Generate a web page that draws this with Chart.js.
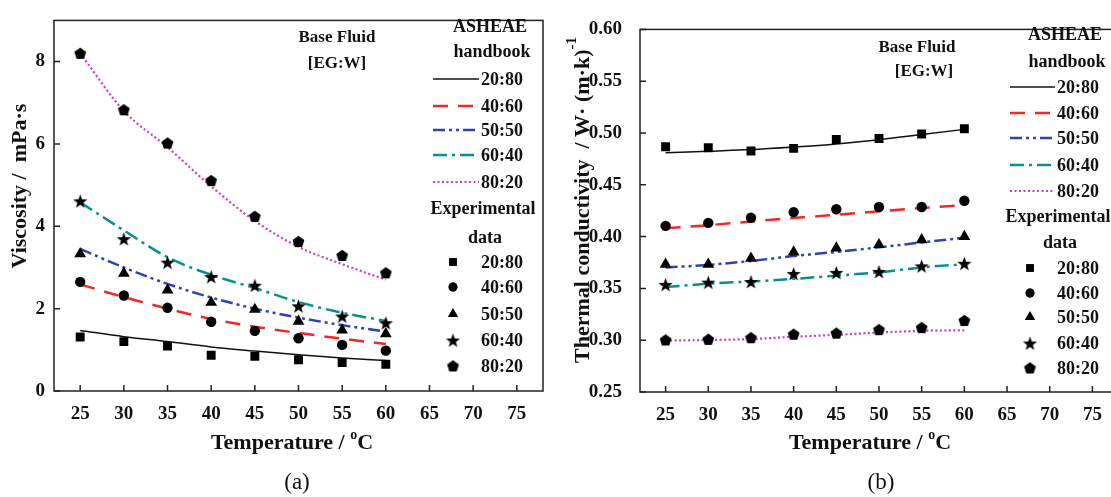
<!DOCTYPE html>
<html>
<head>
<meta charset="utf-8">
<script src="https://cdn.jsdelivr.net/npm/chart.js@4.4.0/dist/chart.umd.min.js"></script>
<style>
  html, body { margin: 0; padding: 0; background: #fff; overflow: hidden; }
  body { width: 1111px; height: 497px; position: relative; }
  .wrap { position: absolute; top: 0; }
</style>
</head>
<body>
<div class="wrap" style="left:0"><canvas id="viscosity" width="560" height="497"></canvas></div>
<div class="wrap" style="left:555px"><canvas id="conductivity" width="570" height="497"></canvas></div>
<script>
// data
const temps = [25, 30, 35, 40, 45, 50, 55, 60];
const ratios = ['20:80', '40:60', '50:50', '60:40', '80:20'];
const xTicks = [25, 30, 35, 40, 45, 50, 55, 60, 65, 70, 75];
const viscTicks = [0, 2, 4, 6, 8];
const condTicks = [0.25, 0.30, 0.35, 0.40, 0.45, 0.50, 0.55, 0.60];

// (a) viscosity, ASHEAE handbook lines
const viscHb2080 = [1.47, 1.32, 1.20, 1.07, 0.97, 0.88, 0.80, 0.74];
const viscHb4060 = [2.59, 2.28, 2.00, 1.75, 1.56, 1.41, 1.27, 1.14];
const viscHb5050 = [3.45, 3.00, 2.60, 2.27, 2.00, 1.78, 1.60, 1.44];
const viscHb6040 = [4.58, 3.90, 3.25, 2.82, 2.50, 2.16, 1.90, 1.70];
const viscHb8020 = [8.20, 6.80, 5.92, 4.97, 4.13, 3.50, 3.08, 2.70];
// (a) viscosity, experimental points
const viscEx2080 = [1.31, 1.20, 1.09, 0.87, 0.84, 0.76, 0.69, 0.65];
const viscEx4060 = [2.65, 2.32, 2.02, 1.68, 1.46, 1.28, 1.12, 0.98];
const viscEx5050 = [3.33, 2.86, 2.45, 2.15, 1.98, 1.69, 1.48, 1.39];
const viscEx6040 = [4.62, 3.70, 3.13, 2.78, 2.57, 2.07, 1.82, 1.66];
const viscEx8020 = [8.20, 6.83, 6.02, 5.11, 4.24, 3.63, 3.29, 2.87];

// (b) thermal conductivity, handbook lines
const condHb2080 = [0.481, 0.4825, 0.484, 0.4865, 0.4895, 0.4935, 0.4985, 0.5035];
const condHb4060 = [0.408, 0.411, 0.4145, 0.418, 0.421, 0.4245, 0.4275, 0.4305];
const condHb5050 = [0.3702, 0.3727, 0.3765, 0.3812, 0.3852, 0.3896, 0.3944, 0.399];
const condHb6040 = [0.3513, 0.3545, 0.3567, 0.3592, 0.3623, 0.3655, 0.3702, 0.3733];
const condHb8020 = [0.2996, 0.3002, 0.3011, 0.3033, 0.3052, 0.3074, 0.309, 0.3096];
// (b) thermal conductivity, experimental points
const condEx2080 = [0.4868, 0.4858, 0.4827, 0.4852, 0.4937, 0.4947, 0.4991, 0.5041];
const condEx4060 = [0.4104, 0.4132, 0.4182, 0.4236, 0.4264, 0.4286, 0.4286, 0.4346];
const condEx5050 = [0.3733, 0.3733, 0.379, 0.385, 0.389, 0.3922, 0.3969, 0.400];
const condEx6040 = [0.3539, 0.3561, 0.3567, 0.3645, 0.3655, 0.3664, 0.3718, 0.3743];
const condEx8020 = [0.3002, 0.3008, 0.3024, 0.3058, 0.3068, 0.3102, 0.3121, 0.319];

const FONT = '"Liberation Serif", "Times New Roman", serif';

// line looks for the handbook curves
const lineColors = ['#111111', '#f02828', '#3340b0', '#0a8f8f', '#c83cc8'];
const lineDashes = [[], [15, 10], [12, 4, 3, 4, 3, 4], [14, 5, 3, 5], [2, 2.5]];
const lineWidths = [1.5, 2.5, 2.5, 2.5, 2.2];

function polyCanvas(n, R, r) {
    const s = Math.ceil(R * 2) + 2;
    const c = document.createElement('canvas');
    c.width = s; c.height = s;
    const g = c.getContext('2d');
    g.translate(s / 2, s / 2 + (n === 10 ? 1 : 0.5));
    g.beginPath();
    for (let i = 0; i < n; i++) {
        const rad = (n === 10 && i % 2) ? r : R;
        const a = -Math.PI / 2 + i * 2 * Math.PI / n;
        g.lineTo(rad * Math.cos(a), rad * Math.sin(a));
    }
    g.closePath();
    g.fillStyle = '#000';
    g.fill();
    return c;
}
const starImg = polyCanvas(10, 7.5, 3);
const pentImg = polyCanvas(5, 6.2);
const markStyles = ['rect', 'circle', 'triangle', starImg, pentImg];
const markRadius = [6.3, 5.2, 6.8, 7, 6];

function pts(arr) {
    return temps.map((t, i) => ({ x: t, y: arr[i] }));
}

function buildDatasets(lines, marks) {
    const ds = [];
    marks.forEach((m, i) => {
        ds.push({
            label: ratios[i] + ' exp', data: pts(m), showLine: false, order: 0,
            pointStyle: markStyles[i], pointRadius: markRadius[i], pointHoverRadius: markRadius[i],
            backgroundColor: '#000', borderColor: '#000', borderWidth: 0
        });
    });
    lines.forEach((l, i) => {
        ds.push({
            label: ratios[i], data: pts(l), showLine: true, order: 1,
            borderColor: lineColors[i], borderDash: lineDashes[i], borderWidth: lineWidths[i],
            pointRadius: 0, cubicInterpolationMode: 'monotone'
        });
    });
    return ds;
}

function richText(ctx, parts, x, y, rotate) {
    let w = 0;
    parts.forEach(p => {
        ctx.font = (p.weight || 'bold') + ' ' + p.size + 'px ' + FONT;
        p.w = ctx.measureText(p.t).width;
        w += p.w;
    });
    ctx.save();
    ctx.translate(x, y);
    if (rotate) ctx.rotate(-Math.PI / 2);
    ctx.textAlign = 'left';
    ctx.textBaseline = 'middle';
    ctx.fillStyle = '#111';
    let cx = -w / 2;
    parts.forEach(p => {
        ctx.font = (p.weight || 'bold') + ' ' + p.size + 'px ' + FONT;
        ctx.fillText(p.t, cx, p.dy || 0);
        cx += p.w;
    });
    ctx.restore();
}

function makeDeco(cfg) {
    return {
        id: 'deco',
        afterDraw(chart) {
            const ctx = chart.ctx;
            const a = chart.chartArea;
            const ox = cfg.ox;
            const xs = chart.scales.x, ys = chart.scales.y;
            ctx.save();
            // frame + inward ticks
            ctx.strokeStyle = '#222';
            ctx.lineWidth = 1.5;
            ctx.strokeRect(a.left, a.top, a.right - a.left, a.bottom - a.top);
            ctx.beginPath();
            xs.ticks.forEach(t => {
                const px = xs.getPixelForValue(t.value);
                ctx.moveTo(px, a.bottom); ctx.lineTo(px, a.bottom - 6);
            });
            ys.ticks.forEach(t => {
                const py = ys.getPixelForValue(t.value);
                ctx.moveTo(a.left, py); ctx.lineTo(a.left + 6, py);
            });
            ctx.stroke();

            // legend
            const L = cfg.legend;
            ctx.fillStyle = '#111';
            ctx.font = 'bold 18px ' + FONT;
            ctx.textBaseline = 'middle';
            ctx.textAlign = 'center';
            ctx.fillText('ASHEAE', L.head1[0] - ox, L.head1[1]);
            ctx.fillText('handbook', L.head2[0] - ox, L.head2[1]);
            ctx.fillText('Experimental', L.head3[0] - ox, L.head3[1]);
            ctx.fillText('data', L.head4[0] - ox, L.head4[1]);
            ctx.textAlign = 'left';
            ratios.forEach((r, i) => {
                const y = L.lineRows[i];
                ctx.save();
                ctx.strokeStyle = lineColors[i];
                ctx.lineWidth = lineWidths[i];
                ctx.setLineDash(lineDashes[i]);
                ctx.beginPath();
                ctx.moveTo(L.lineX[0] - ox, y);
                ctx.lineTo(L.lineX[1] - ox, y);
                ctx.stroke();
                ctx.restore();
                ctx.fillText(r, L.textX - ox, y + 1);
                const my = L.markRows[i];
                Chart.helpers.drawPoint(ctx, {
                    pointStyle: markStyles[i], radius: markRadius[i] * 0.85, rotation: 0, borderWidth: 0
                }, L.markX - ox, my);
                ctx.fillStyle = '#000';
                ctx.fill();
                ctx.fillStyle = '#111';
                ctx.fillText(r, L.textX - ox, my + 1);
            });

            // base fluid note
            ctx.textAlign = 'center';
            ctx.font = 'bold 17px ' + FONT;
            ctx.fillText('Base Fluid', cfg.note1[0] - ox, cfg.note1[1]);
            ctx.fillText('[EG:W]', cfg.note2[0] - ox, cfg.note2[1]);

            // axis titles
            richText(ctx, [{ t: 'Temperature / ', size: 22 }, { t: 'o', size: 14, dy: -8 }, { t: 'C', size: 22 }],
                cfg.xTitle[0] - ox, cfg.xTitle[1], false);
            richText(ctx, cfg.yTitleParts, cfg.yTitle[0] - ox, cfg.yTitle[1], true);
            richText(ctx, [{ t: cfg.panel, size: 23, weight: 'normal' }], cfg.panelPos[0] - ox, cfg.panelPos[1], false);
            ctx.restore();
        }
    };
}

function makeChart(id, lines, marks, yMin, yMax, yTicks, yWidth, yPad, padding, fmt, deco) {
    return new Chart(document.getElementById(id), {
        type: 'scatter',
        data: { datasets: buildDatasets(lines, marks) },
        options: {
            responsive: false,
            animation: false,
            layout: { padding: padding },
            plugins: { legend: { display: false }, tooltip: { enabled: false } },
            scales: {
                x: {
                    type: 'linear', min: 22, max: 78,
                    grid: { display: false, drawTicks: false }, border: { display: false },
                    afterBuildTicks: s => { s.ticks = xTicks.map(v => ({ value: v })); },
                    afterFit: s => { s.height = 60; },
                    ticks: { padding: 12, color: '#111', font: { family: FONT, size: 19, weight: 'bold' } }
                },
                y: {
                    type: 'linear', min: yMin, max: yMax,
                    grid: { display: false, drawTicks: false }, border: { display: false },
                    afterBuildTicks: s => { s.ticks = yTicks.map(v => ({ value: v })); },
                    afterFit: s => { s.width = yWidth; },
                    ticks: { padding: yPad, color: '#111', font: { family: FONT, size: 19, weight: 'bold' }, callback: fmt }
                }
            }
        },
        plugins: [makeDeco(deco)]
    });
}

makeChart('viscosity',
    [viscHb2080, viscHb4060, viscHb5050, viscHb6040, viscHb8020],
    [viscEx2080, viscEx4060, viscEx5050, viscEx6040, viscEx8020],
    0, 9, viscTicks, 54, 9, { left: 0, top: 12, right: 17, bottom: 46 },
    v => String(v),
    {
        ox: 0,
        legend: {
            head1: [490, 27], head2: [492, 52], head3: [483, 209], head4: [485, 238],
            lineX: [433, 479], lineRows: [79, 106, 130, 155, 182], textX: 481,
            markX: 453, markRows: [262, 287, 314, 340, 366]
        },
        note1: [337, 38], note2: [337, 64],
        xTitle: [292, 443],
        yTitle: [20, 186],
        yTitleParts: [{ t: 'Viscosity /  mPa\u00b7s', size: 22 }],
        panel: '(a)', panelPos: [297, 483]
    });

makeChart('conductivity',
    [condHb2080, condHb4060, condHb5050, condHb6040, condHb8020],
    [condEx2080, condEx4060, condEx5050, condEx6040, condEx8020],
    0.25, 0.60, condTicks, 85, 18, { left: 0, top: 22, right: 3, bottom: 45 },
    v => v.toFixed(2),
    {
        ox: 555,
        legend: {
            head1: [1065, 35], head2: [1067, 62], head3: [1058, 217], head4: [1060, 243],
            lineX: [1010, 1055], lineRows: [87, 113, 138, 165, 191], textX: 1057,
            markX: 1030, markRows: [268, 293, 317, 343, 368]
        },
        note1: [917, 48], note2: [924, 72],
        xTitle: [870, 443],
        yTitle: [583, 200],
        yTitleParts: [{ t: 'Thermal conductivity  / W\u00b7 (m\u00b7k)', size: 22 }, { t: '-1', size: 15, dy: -11 }],
        panel: '(b)', panelPos: [881, 483]
    });
</script>
</body>
</html>
